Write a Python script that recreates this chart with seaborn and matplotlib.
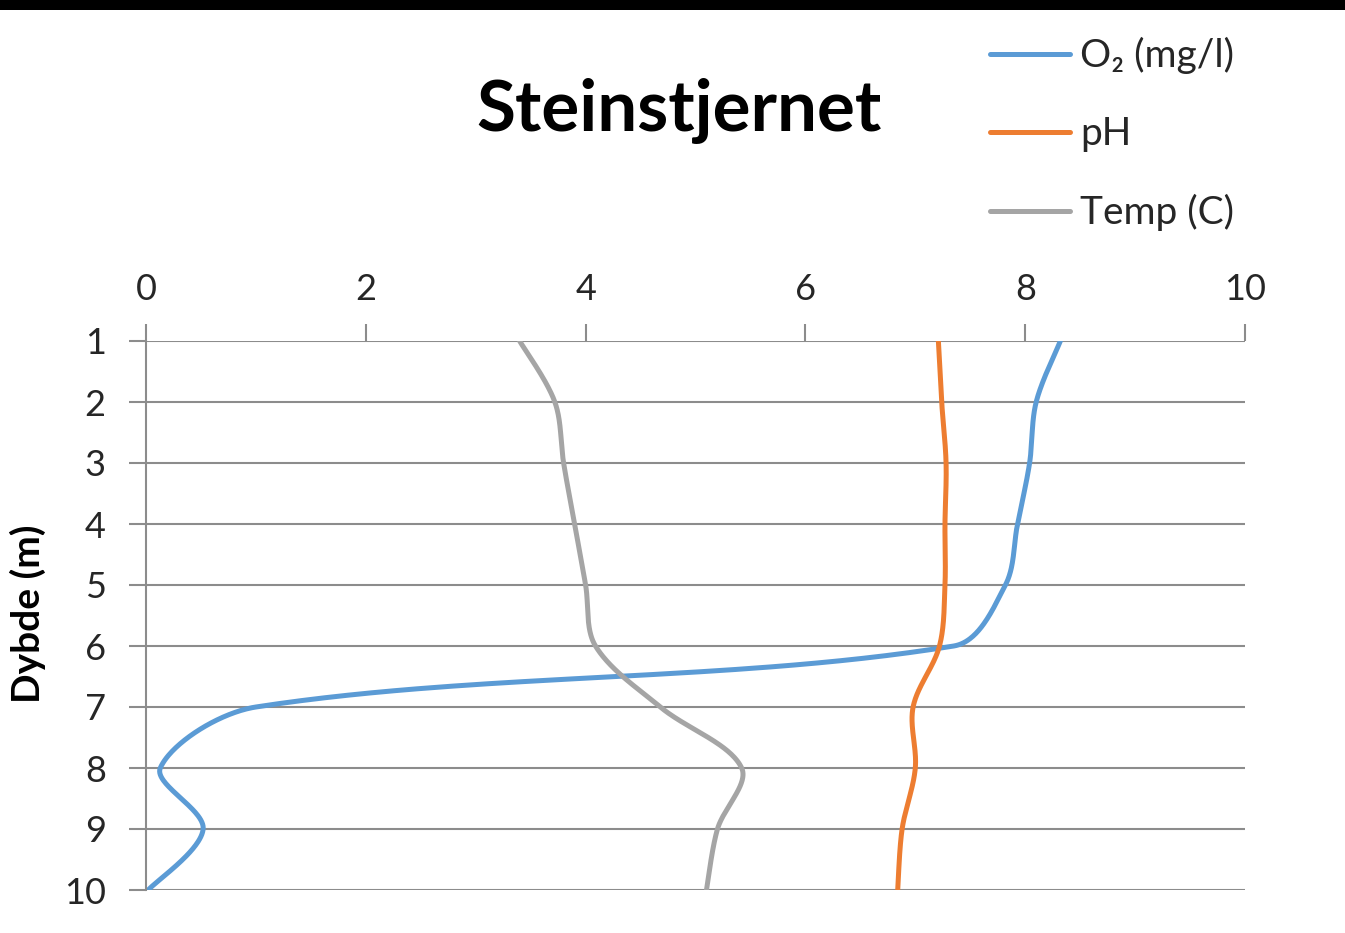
import numpy as np
import pandas as pd
import matplotlib
matplotlib.use("Agg")
import matplotlib.pyplot as plt
import seaborn as sns

# Depth profile measurements
depth = [1, 2, 3, 4, 5, 6, 7, 8, 9, 10]
oxygen = [8.32, 8.10, 8.04, 7.93, 7.82, 7.35, 1.00, 0.13, 0.52, 0.02]
ph = [7.21, 7.24, 7.28, 7.27, 7.27, 7.22, 6.98, 7.00, 6.88, 6.84]
temp = [3.40, 3.72, 3.80, 3.90, 4.00, 4.09, 4.68, 5.42, 5.20, 5.10]

series_names = ["O\u2082 (mg/l)", "pH", "Temp (C)"]
series_values = [oxygen, ph, temp]
colors = ["#5B9BD5", "#ED7D31", "#A5A5A5"]

x_ticks = [0, 2, 4, 6, 8, 10]
title = "Steinstjernet"
y_label = "Dybde (m)"

# Plot area size in pixels per data unit (used to weigh segment lengths)
X_SCALE = 1099 / 10.0
Y_SCALE = 549 / 9.0


def smooth(xs, ys, steps=60):
    """Bezier smoothing through every point, tangents weighted by segment length."""
    p = np.column_stack([xs, ys]).astype(float)
    scr = p * [X_SCALE, Y_SCALE]
    n = len(p)
    d = np.hypot(*np.diff(scr, axis=0).T)
    out = []
    for i in range(n - 1):
        p0 = p[max(i - 1, 0)]
        p1, p2 = p[i], p[i + 1]
        p3 = p[min(i + 2, n - 1)]
        d_prev = d[i - 1] if i > 0 else d[i]
        d_next = d[i + 1] if i + 1 < n - 1 else d[i]
        c1 = p1 + (p2 - p0) * d[i] / (d_prev + d[i]) / 3.0
        c2 = p2 - (p3 - p1) * d[i] / (d[i] + d_next) / 3.0
        t = np.linspace(0, 1, steps, endpoint=(i == n - 2))[:, None]
        seg = ((1 - t) ** 3) * p1 + 3 * ((1 - t) ** 2) * t * c1 \
            + 3 * (1 - t) * t ** 2 * c2 + t ** 3 * p2
        out.append(seg)
    return np.vstack(out)


frames = []
for name, vals in zip(series_names, series_values):
    pts = smooth(vals, depth)
    frames.append(pd.DataFrame({"value": pts[:, 0], "depth": pts[:, 1],
                                "series": name}))
curves = pd.concat(frames, ignore_index=True)

sns.set_style("white")
plt.rcParams["font.family"] = ["Lato", "DejaVu Sans"]

fig = plt.figure(figsize=(13.45, 9.33), dpi=100)
ax = fig.add_axes([146 / 1345, 1 - 890 / 933, 1099 / 1345, 549 / 933])

grid_color = "#8C8C8C"
text_color = "#262626"

sns.lineplot(data=curves, x="value", y="depth", hue="series",
             hue_order=series_names, palette=colors, sort=False,
             estimator=None, linewidth=3.6, ax=ax)

ax.set_xlim(0, 10)
ax.set_ylim(10, 1)
ax.set_xticks(x_ticks)
ax.set_yticks(depth)
ax.xaxis.tick_top()
ax.set_xlabel("")
ax.set_ylabel("")

ax.tick_params(axis="x", which="both", direction="out", length=12,
               width=1.5, color=grid_color, labelsize=26, pad=13,
               labelcolor=text_color, top=True, bottom=False)
ax.tick_params(axis="y", which="both", direction="out", length=12,
               width=1.5, color=grid_color, labelsize=26, pad=17,
               labelcolor=text_color, left=True)

ax.grid(axis="y", color=grid_color, linewidth=1.5)
ax.grid(axis="x", visible=False)
for side in ["right", "bottom", "top"]:
    ax.spines[side].set_visible(False)
ax.spines["left"].set_color(grid_color)
ax.spines["left"].set_linewidth(1.5)

handles, labels = ax.get_legend_handles_labels()
ax.legend(handles, labels, loc="upper left",
          bbox_to_anchor=(990 / 1345, 1 - 37 / 933),
          bbox_transform=fig.transFigure, frameon=False, fontsize=28,
          borderpad=0, borderaxespad=0, handlelength=2.06,
          handletextpad=0.26, labelspacing=1.08, labelcolor=text_color)

fig.text(679 / 1345, 1 - 131 / 933, title, ha="center", va="baseline",
         fontsize=51, fontweight="bold", color="black")
fig.text(28 / 1345, 1 - 614 / 933, y_label, ha="center", va="center",
         rotation=90, fontsize=28, fontweight="bold", color="black")

# Dark band along the upper edge
fig.patches.append(plt.Rectangle((0, 1 - 10 / 933), 1, 10 / 933,
                                 transform=fig.transFigure,
                                 facecolor="black", edgecolor="none"))

fig.savefig("out.png", dpi=100, facecolor="white")
